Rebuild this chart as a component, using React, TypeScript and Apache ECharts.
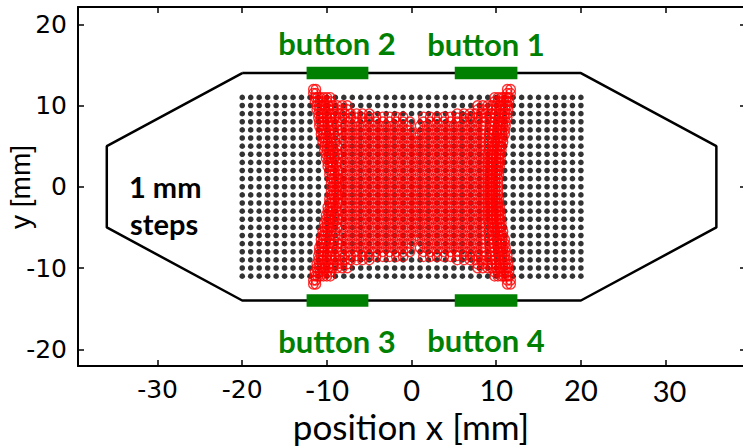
import React, { useEffect, useRef } from "react";
import * as echarts from "echarts";

// ---- axis ticks ----
const xTickValues = [-30, -20, -10, 0, 10, 20, 30];
const yTickValues = [-20, -10, 0, 10, 20];
const xTicksArialStyle = [-30, -20];

// ---- 1 mm measurement grid ----
const gridX = [-20, -19, -18, -17, -16, -15, -14, -13, -12, -11, -10, -9, -8, -7, -6, -5, -4, -3, -2, -1, 0, 1, 2, 3, 4, 5, 6, 7, 8, 9, 10, 11, 12, 13, 14, 15, 16, 17, 18, 19, 20];
const gridY = [-11, -10, -9, -8, -7, -6, -5, -4, -3, -2, -1, 0, 1, 2, 3, 4, 5, 6, 7, 8, 9, 10, 11];

// ---- device outline ----
const outlineX = [-20, 20, 36, 36, 20, -20, -36, -36, -20];
const outlineY = [14, 14, 5, -5, -14, -14, -5, 5, 14];

// ---- buttons ----
const buttonNames = ["button 1", "button 2", "button 3", "button 4"];
const buttonX0 = [5.1, -12.4, -12.4, 5.1];
const buttonX1 = [12.5, -5.1, -5.1, 12.5];
const buttonY = [14, 14, -14, -14];

// ---- estimated positions (red circles) ----
// interior columns (whole rows / half rows), with and without the light central band
const redInnerA = [-8.2, -7.4, -6.6, -5.8, -5.0, -4.2, -3.4, -2.6, -1.8, -1.0, -0.2, 0.6, 1.4, 2.2, 3.0, 3.8, 4.6, 5.4, 6.2, 7.0, 7.8, 8.6];
const redInnerB = [-7.8, -7.0, -6.2, -5.4, -4.6, -3.8, -3.0, -2.2, -1.4, -0.6, 0.2, 1.0, 1.8, 2.6, 3.4, 4.2, 5.0, 5.8, 6.6, 7.4, 8.2];
const redInnerAGap = [-8.2, -7.4, -6.6, -5.8, -5.0, -4.2, -3.4, -2.6, -1.8, -1.0, -0.2, 1.4, 2.2, 3.0, 3.8, 4.6, 5.4, 6.2, 7.0, 7.8, 8.6];
const redInnerBGap = [-7.8, -7.0, -6.2, -5.4, -4.6, -3.8, -3.0, -2.2, -1.4, -0.6, 1.0, 1.8, 2.6, 3.4, 4.2, 5.0, 5.8, 6.6, 7.4, 8.2];
const redTopMiddle = [-4.2, -3.4, -2.6, -1.8, -1.0, 1.4, 2.2, 3.0, 3.8, 4.6];
const redNone: number[] = [];

// left / right dense strips
const redL12 = [-11.6, -11.3];
const redR12 = [11.3, 11.7];
const redL11 = [-11.4, -11.1, -10.8, -10.4, -10.0, -9.6];
const redR11 = [9.8, 10.2, 10.6, 10.9, 11.2, 11.5];
const redL10 = [-11.2, -10.9, -10.6, -10.2, -9.8, -9.3, -8.8, -8.2, -7.6];
const redR10 = [7.8, 8.4, 9.0, 9.5, 10.0, 10.4, 10.8, 11.1, 11.4];
const redL9 = [-11.0, -10.7, -10.4, -10.0, -9.6, -9.1, -8.5, -7.9, -7.2, -6.5, -5.8, -5.0];
const redR9 = [5.4, 6.2, 6.9, 7.6, 8.2, 8.8, 9.4, 9.9, 10.3, 10.7, 11.0, 11.3];
const redL8 = [-10.9, -10.6, -10.3, -9.9, -9.4, -8.8];
const redR8 = [9.3, 9.8, 10.2, 10.5, 10.8, 11.1];
const redL7 = [-10.7, -10.4, -10.1, -9.7, -9.2, -8.7];
const redR7 = [9.2, 9.7, 10.1, 10.4, 10.7, 11.0];
const redL6 = [-10.5, -10.2, -9.9, -9.5, -9.0];
const redR6 = [9.1, 9.5, 9.9, 10.2, 10.5, 10.8];
const redL5 = [-10.3, -10.0, -9.7, -9.3, -8.8];
const redR5 = [9.1, 9.5, 9.8, 10.1, 10.4, 10.6];
const redL4 = [-10.1, -9.8, -9.5, -9.1, -8.7];
const redR4 = [9.0, 9.4, 9.7, 10.0, 10.3, 10.5];
const redL3 = [-9.9, -9.6, -9.3, -8.9];
const redR3 = [9.0, 9.4, 9.7, 10.0, 10.2, 10.4];
const redL2 = [-9.7, -9.4, -9.1, -8.7];
const redR2 = [9.0, 9.3, 9.6, 9.9, 10.1, 10.3];
const redL1 = [-9.5, -9.2, -8.9, -8.6];
const redR1 = [9.0, 9.3, 9.6, 9.9, 10.2];
const redL0 = [-9.4, -9.1, -8.8];
const redR0 = [9.0, 9.3, 9.6, 9.9, 10.2];

const redRowY = [
  12, 11.5, 11, 10.5, 10, 9.5, 9, 8.6, 8.5, 8, 7.5, 7, 6.5, 6, 5.5, 5, 4.5, 4, 3.5, 3, 2.5, 2, 1.5, 1, 0.5, 0,
  -0.5, -1, -1.5, -2, -2.5, -3, -3.5, -4, -4.5, -5, -5.5, -6, -6.5, -7, -7.5, -8, -8.5, -8.6, -9, -9.5, -10, -10.5, -11, -11.5, -12,
];
const redRowLeft = [
  redL12, redL12, redL11, redL11, redL10, redL10, redL9, redNone, redL9, redL8, redL8, redL7, redL7, redL6, redL6, redL5, redL5, redL4, redL4, redL3, redL3, redL2, redL2, redL1, redL1, redL0,
  redL1, redL1, redL2, redL2, redL3, redL3, redL4, redL4, redL5, redL5, redL6, redL6, redL7, redL7, redL8, redL8, redL9, redNone, redL9, redL10, redL10, redL11, redL11, redL12, redL12,
];
const redRowInner = [
  redNone, redNone, redNone, redNone, redNone, redNone, redNone, redTopMiddle, redNone, redInnerAGap, redInnerBGap, redInnerAGap, redInnerB, redInnerA, redInnerB, redInnerA, redInnerB, redInnerA, redInnerB, redInnerA, redInnerB, redInnerA, redInnerB, redInnerA, redInnerB, redInnerA,
  redInnerB, redInnerA, redInnerB, redInnerA, redInnerB, redInnerA, redInnerB, redInnerA, redInnerB, redInnerA, redInnerB, redInnerA, redInnerB, redInnerAGap, redInnerBGap, redInnerAGap, redNone, redTopMiddle, redNone, redNone, redNone, redNone, redNone, redNone, redNone,
];
const redRowRight = [
  redR12, redR12, redR11, redR11, redR10, redR10, redR9, redNone, redR9, redR8, redR8, redR7, redR7, redR6, redR6, redR5, redR5, redR4, redR4, redR3, redR3, redR2, redR2, redR1, redR1, redR0,
  redR1, redR1, redR2, redR2, redR3, redR3, redR4, redR4, redR5, redR5, redR6, redR6, redR7, redR7, redR8, redR8, redR9, redNone, redR9, redR10, redR10, redR11, redR11, redR12, redR12,
];

const GREEN = "#008000";

export default function App() {
  const ref = useRef<HTMLDivElement>(null);

  useEffect(() => {
    if (!ref.current) return;
    const chart = echarts.init(ref.current, null, { renderer: "svg" });

    const gridPoints: number[][] = [];
    gridY.forEach((y) => gridX.forEach((x) => gridPoints.push([x, y])));

    const redPoints: number[][] = [];
    redRowY.forEach((y, i) => {
      [...redRowLeft[i], ...redRowInner[i], ...redRowRight[i]].forEach((x) => redPoints.push([x, y]));
    });

    const outline = outlineX.map((x, i) => [x, outlineY[i]]);

    const buttonSeries = buttonNames.map((name, i) => ({
      type: "line",
      name,
      data: [
        [buttonX0[i], buttonY[i]],
        [buttonX1[i], buttonY[i]],
      ],
      symbol: "none",
      silent: true,
      lineStyle: { color: GREEN, width: 12.5, cap: "butt" },
      z: 5,
    }));

    const tickCommon = { inside: true, length: 6, lineStyle: { color: "#000", width: 1.5 } };
    const lineCommon = { show: true, lineStyle: { color: "#000", width: 2 } };

    const option: any = {
      animation: false,
      backgroundColor: "#fff",
      grid: { left: 78, top: 7, width: 668, height: 359, containLabel: false, outerBoundsMode: "none" },
      xAxis: [
        {
          type: "value",
          position: "bottom",
          min: -39.4,
          max: 39.5,
          axisLine: { ...lineCommon, onZero: false },
          axisTick: { ...tickCommon, customValues: xTickValues },
          splitLine: { show: false },
          axisLabel: {
            customValues: xTickValues,
            margin: 12,
            formatter: (v: number) => (xTicksArialStyle.includes(v) ? `{a|${v}}` : v === 30 ? `{d|${v}}` : `{c|${v}}`),
            rich: {
              a: { fontFamily: "DejaVu Sans", fontSize: 25, color: "#000", lineHeight: 22 },
              c: { fontFamily: "Lato", fontSize: 29, color: "#000", lineHeight: 22 },
              d: { fontFamily: "Lato", fontSize: 29, color: "#000", lineHeight: 22, padding: [3, 0, 0, 8] },
            },
          },
        },
        {
          type: "value",
          position: "top",
          min: -39.4,
          max: 39.5,
          axisLine: { ...lineCommon, onZero: false },
          axisTick: { ...tickCommon, customValues: xTickValues },
          splitLine: { show: false },
          axisLabel: { show: false },
        },
      ],
      yAxis: [
        {
          type: "value",
          position: "left",
          min: -22.06,
          max: 22.13,
          axisLine: { ...lineCommon, onZero: false },
          axisTick: { ...tickCommon, customValues: yTickValues },
          splitLine: { show: false },
          axisLabel: {
            customValues: yTickValues,
            margin: 11,
            fontFamily: "DejaVu Sans",
            fontSize: 25,
            color: "#000",
          },
        },
        {
          type: "value",
          position: "right",
          min: -22.06,
          max: 22.13,
          axisLine: { ...lineCommon, onZero: false },
          axisTick: { ...tickCommon, customValues: yTickValues },
          splitLine: { show: false },
          axisLabel: { show: false },
        },
      ],
      series: [
        {
          type: "line",
          name: "outline",
          data: outline,
          symbol: "none",
          silent: true,
          lineStyle: { color: "#000", width: 2.5 },
          z: 2,
        },
        {
          type: "scatter",
          name: "grid",
          data: gridPoints,
          symbol: "circle",
          symbolSize: 5.6,
          silent: true,
          itemStyle: { color: "#000" },
          z: 3,
        },
        {
          type: "scatter",
          name: "estimated",
          data: redPoints,
          symbol: "circle",
          symbolSize: 9.5,
          silent: true,
          itemStyle: { color: "rgba(0,0,0,0)", borderColor: "#ff0000", borderWidth: 1.4 },
          z: 4,
        },
        ...buttonSeries,
      ],
      graphic: [
        { type: "text", x: 337, y: 42.5, style: { text: "button 2", fontFamily: "Lato", fontWeight: "bold", fontSize: 31, fill: GREEN, align: "center", verticalAlign: "middle" } },
        { type: "text", x: 486, y: 44, style: { text: "button 1", fontFamily: "Lato", fontWeight: "bold", fontSize: 31, fill: GREEN, align: "center", verticalAlign: "middle" } },
        { type: "text", x: 337, y: 340.5, style: { text: "button 3", fontFamily: "Lato", fontWeight: "bold", fontSize: 31, fill: GREEN, align: "center", verticalAlign: "middle" } },
        { type: "text", x: 486, y: 340, style: { text: "button 4", fontFamily: "Lato", fontWeight: "bold", fontSize: 31, fill: GREEN, align: "center", verticalAlign: "middle" } },
        { type: "text", x: 129, y: 186.5, style: { text: "1 mm", fontFamily: "Lato", fontWeight: "bold", fontSize: 29, fill: "#000", align: "left", verticalAlign: "middle" } },
        { type: "text", x: 130, y: 223, style: { text: "steps", fontFamily: "Lato", fontWeight: "bold", fontSize: 29, fill: "#000", align: "left", verticalAlign: "middle" } },
        { type: "text", x: 411, y: 426, style: { text: "position x [mm]", fontFamily: "Lato", fontSize: 35, lineHeight: 30, fill: "#000", align: "center", verticalAlign: "middle" } },
        { type: "text", x: 20, y: 187, rotation: Math.PI / 2, style: { text: "y [mm]", fontFamily: "Liberation Sans", fontSize: 28, fill: "#000", align: "center", verticalAlign: "middle" } },
      ],
    };

    chart.setOption(option);
    return () => chart.dispose();
  }, []);

  return <div ref={ref} style={{ position: "fixed", left: 0, top: 0, width: 743, height: 446, background: "#fff" }} />;
}
